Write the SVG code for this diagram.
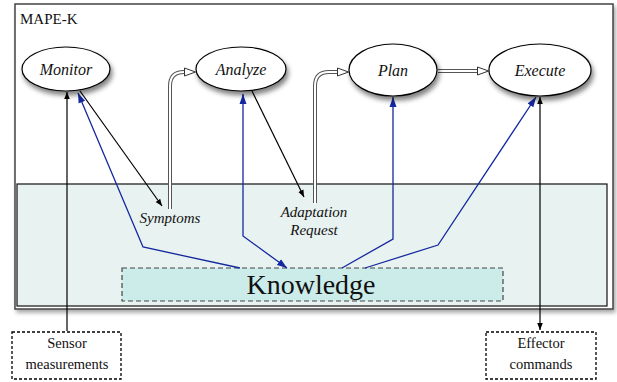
<svg xmlns="http://www.w3.org/2000/svg" width="617" height="382" viewBox="0 0 617 382">
<style>
.t{font-family:"Liberation Serif","Times New Roman",serif;fill:#111}
.it{font-style:italic}
.blk{fill:none;stroke:#000;stroke-width:1.2}
.blu{fill:none;stroke:#1428a0;stroke-width:1.3}
.dbo{fill:none;stroke:#555;stroke-width:4}
.dbi{fill:none;stroke:#fff;stroke-width:2}
.ell{fill:#fff;stroke:#000;stroke-width:1.2}
.io{fill:#fff;stroke:#000;stroke-width:1.3;stroke-dasharray:3,2}
</style>
<defs>
<filter id="sh" x="-20%" y="-20%" width="150%" height="160%">
<feGaussianBlur in="SourceAlpha" stdDeviation="2.5"/>
<feOffset dx="2" dy="4" result="b"/>
<feComponentTransfer><feFuncA type="linear" slope="0.5"/></feComponentTransfer>
<feMerge><feMergeNode/><feMergeNode in="SourceGraphic"/></feMerge>
</filter>
<filter id="sh2" x="-5%" y="-5%" width="110%" height="115%">
<feGaussianBlur in="SourceAlpha" stdDeviation="2"/>
<feOffset dx="2" dy="3" result="b"/>
<feComponentTransfer><feFuncA type="linear" slope="0.35"/></feComponentTransfer>
<feMerge><feMergeNode/><feMergeNode in="SourceGraphic"/></feMerge>
</filter>
<marker id="ab" viewBox="0 0 10 10" refX="10" refY="5" markerWidth="7" markerHeight="7" orient="auto-start-reverse" markerUnits="userSpaceOnUse">
<path d="M0,1 L10,5 L0,9 Z" fill="#000"/>
</marker>
<marker id="au" viewBox="0 0 10 10" refX="10" refY="5" markerWidth="10" markerHeight="10" orient="auto-start-reverse" markerUnits="userSpaceOnUse">
<path d="M0,1.5 L10,5 L0,8.5 Z" fill="#1428a0"/>
</marker>
<marker id="ah" viewBox="0 0 12 10" refX="12" refY="5" markerWidth="12" markerHeight="10" orient="auto" markerUnits="userSpaceOnUse">
<path d="M0.5,1 L11.5,5 L0.5,9 Z" fill="#fff" stroke="#333" stroke-width="1"/>
</marker>
</defs>

<g id="mapek">
<rect x="15" y="4" width="598" height="305" fill="#fff" stroke="#444" stroke-width="1.5" filter="url(#sh2)"/>
<text class="t" x="20" y="24" font-size="15">MAPE-K</text>
</g>

<g id="knowledge-area">
<rect x="17" y="184" width="590" height="122" fill="#e8f2f0" stroke="#111" stroke-width="1.2"/>
</g>

<g id="knowledge">
<rect x="122" y="268" width="381" height="33" fill="#ccecea" stroke="#444" stroke-width="1.2" stroke-dasharray="5,3"/>
<text class="t" x="311" y="294" font-size="28" text-anchor="middle">Knowledge</text>
</g>

<g id="connectors">
<line class="blk" x1="67" y1="331" x2="67" y2="92" marker-end="url(#ab)"/>
<line class="blk" x1="540" y1="330" x2="540" y2="97" marker-start="url(#ab)" marker-end="url(#ab)"/>
<line class="blk" x1="80" y1="91" x2="162" y2="206" marker-end="url(#ab)"/>
<line class="blk" x1="252" y1="91" x2="304" y2="197" marker-end="url(#ab)"/>
<path class="dbo" d="M170,209 L170,86 Q170,72 184,72 L190,72"/>
<path class="dbi" d="M170,210 L170,86 Q170,72 184,72 L190,72"/>
<path d="M185,72 L196,72" fill="none" stroke="none" marker-end="url(#ah)"/>
<path class="dbo" d="M315,203 L315,86 Q315,72 329,72 L340,72"/>
<path class="dbi" d="M315,204 L315,86 Q315,72 329,72 L340,72"/>
<path d="M338,72 L349,72" fill="none" stroke="none" marker-end="url(#ah)"/>
<path class="dbo" d="M438,71 L481,71"/>
<path class="dbi" d="M437,71 L481,71"/>
<path d="M478,71 L489,71" fill="none" stroke="none" marker-end="url(#ah)"/>
<polyline class="blu" points="240,268 143,247 78,93" marker-end="url(#au)"/>
<polyline class="blu" points="287,268 243,236 243,94" marker-start="url(#au)" marker-end="url(#au)"/>
<polyline class="blu" points="342,268 393,239 393,97" marker-end="url(#au)"/>
<polyline class="blu" points="365,268 438,245 536,97" marker-end="url(#au)"/>
<text class="t it" x="170" y="223" font-size="15" text-anchor="middle">Symptoms</text>
<text class="t it" x="314" y="217" font-size="15" text-anchor="middle">Adaptation</text>
<text class="t it" x="314" y="235" font-size="15" text-anchor="middle">Request</text>
</g>

<g id="monitor">
<ellipse class="ell" cx="66" cy="69" rx="44" ry="22" filter="url(#sh)"/>
<text class="t it" x="66" y="75" font-size="16" text-anchor="middle">Monitor</text>
</g>
<g id="analyze">
<ellipse class="ell" cx="241" cy="69" rx="45" ry="22" filter="url(#sh)"/>
<text class="t it" x="241" y="75" font-size="16" text-anchor="middle">Analyze</text>
</g>
<g id="plan">
<ellipse class="ell" cx="393" cy="70" rx="44" ry="26" filter="url(#sh)"/>
<text class="t it" x="393" y="76" font-size="16" text-anchor="middle">Plan</text>
</g>
<g id="execute">
<ellipse class="ell" cx="540" cy="70" rx="51" ry="26" filter="url(#sh)"/>
<text class="t it" x="540" y="76" font-size="16" text-anchor="middle">Execute</text>
</g>

<g id="sensor">
<rect class="io" x="12" y="332" width="109" height="47"/>
<text class="t" x="67" y="348" font-size="14.5" text-anchor="middle">Sensor</text>
<text class="t" x="67" y="369" font-size="14.5" text-anchor="middle">measurements</text>
</g>
<g id="effector">
<rect class="io" x="486" y="332" width="110" height="47"/>
<text class="t" x="541" y="348" font-size="14.5" text-anchor="middle">Effector</text>
<text class="t" x="541" y="369" font-size="14.5" text-anchor="middle">commands</text>
</g>
</svg>
